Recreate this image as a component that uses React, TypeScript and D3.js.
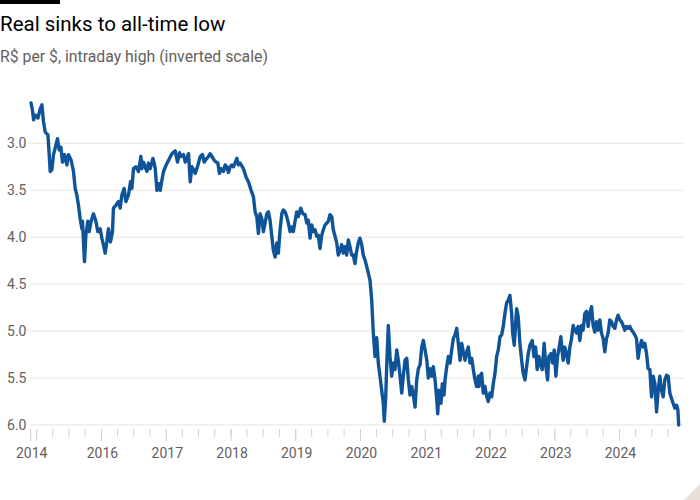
import React from 'react';
import * as d3 from 'd3';

// decimal years (intraday high sampled roughly every 9-10 days)
const TIMES = [
  2014.912, 2014.935, 2014.951, 2014.977, 2015.019, 2015.054, 2015.080, 2015.105, 2015.131, 2015.173,
  2015.193, 2015.208, 2015.235, 2015.259, 2015.285, 2015.321, 2015.347, 2015.373, 2015.398, 2015.429,
  2015.466, 2015.491, 2015.532, 2015.568, 2015.594, 2015.620, 2015.645, 2015.671, 2015.698, 2015.707,
  2015.738, 2015.759, 2015.790, 2015.810, 2015.841, 2015.877, 2015.914, 2015.944, 2015.980, 2016.006,
  2016.031, 2016.057, 2016.083, 2016.108, 2016.139, 2016.170, 2016.185, 2016.222, 2016.262, 2016.289,
  2016.315, 2016.350, 2016.377, 2016.417, 2016.448, 2016.469, 2016.494, 2016.531, 2016.571, 2016.608,
  2016.623, 2016.648, 2016.674, 2016.701, 2016.725, 2016.752, 2016.793, 2016.813, 2016.829, 2016.855,
  2016.880, 2016.906, 2016.932, 2016.957, 2016.998, 2017.034, 2017.086, 2017.137, 2017.173, 2017.204,
  2017.225, 2017.265, 2017.292, 2017.318, 2017.343, 2017.369, 2017.395, 2017.420, 2017.446, 2017.481,
  2017.523, 2017.559, 2017.585, 2017.627, 2017.651, 2017.677, 2017.704, 2017.739, 2017.770, 2017.796,
  2017.821, 2017.847, 2017.883, 2017.909, 2017.935, 2017.960, 2017.986, 2018.012, 2018.037, 2018.063,
  2018.090, 2018.114, 2018.140, 2018.191, 2018.233, 2018.269, 2018.310, 2018.346, 2018.372, 2018.398,
  2018.423, 2018.449, 2018.475, 2018.500, 2018.526, 2018.552, 2018.577, 2018.603, 2018.630, 2018.654,
  2018.681, 2018.707, 2018.731, 2018.758, 2018.784, 2018.809, 2018.835, 2018.861, 2018.886, 2018.912,
  2018.938, 2018.963, 2018.989, 2019.015, 2019.040, 2019.077, 2019.108, 2019.144, 2019.170, 2019.194,
  2019.221, 2019.247, 2019.272, 2019.298, 2019.324, 2019.349, 2019.375, 2019.401, 2019.426, 2019.452,
  2019.478, 2019.503, 2019.529, 2019.556, 2019.580, 2019.607, 2019.633, 2019.657, 2019.684, 2019.710,
  2019.735, 2019.761, 2019.787, 2019.812, 2019.838, 2019.864, 2019.889, 2019.915, 2019.941, 2019.966,
  2019.992, 2020.019, 2020.043, 2020.069, 2020.096, 2020.120, 2020.147, 2020.173, 2020.198, 2020.224,
  2020.250, 2020.275, 2020.301, 2020.327, 2020.352, 2020.367, 2020.389, 2020.404, 2020.429, 2020.455,
  2020.481, 2020.506, 2020.532, 2020.559, 2020.583, 2020.610, 2020.636, 2020.660, 2020.687, 2020.713,
  2020.738, 2020.764, 2020.790, 2020.815, 2020.841, 2020.867, 2020.892, 2020.918, 2020.944, 2020.969,
  2020.995, 2021.022, 2021.046, 2021.073, 2021.099, 2021.123, 2021.150, 2021.176, 2021.191, 2021.211,
  2021.242, 2021.262, 2021.289, 2021.304, 2021.330, 2021.355, 2021.381, 2021.407, 2021.432, 2021.458,
  2021.485, 2021.509, 2021.536, 2021.562, 2021.586, 2021.613, 2021.639, 2021.664, 2021.690, 2021.716,
  2021.741, 2021.767, 2021.793, 2021.818, 2021.829, 2021.844, 2021.870, 2021.895, 2021.921, 2021.948,
  2021.972, 2021.998, 2022.025, 2022.049, 2022.076, 2022.102, 2022.127, 2022.153, 2022.179, 2022.204,
  2022.230, 2022.256, 2022.281, 2022.307, 2022.333, 2022.349, 2022.374, 2022.395, 2022.411, 2022.435,
  2022.461, 2022.488, 2022.512, 2022.539, 2022.565, 2022.590, 2022.616, 2022.651, 2022.678, 2022.704,
  2022.728, 2022.755, 2022.781, 2022.806, 2022.836, 2022.863, 2022.889, 2022.909, 2022.940, 2022.966,
  2022.991, 2023.017, 2023.043, 2023.068, 2023.094, 2023.114, 2023.130, 2023.156, 2023.182, 2023.207,
  2023.233, 2023.259, 2023.284, 2023.310, 2023.336, 2023.361, 2023.387, 2023.414, 2023.438, 2023.465,
  2023.491, 2023.515, 2023.542, 2023.568, 2023.593, 2023.619, 2023.645, 2023.670, 2023.696, 2023.722,
  2023.747, 2023.773, 2023.799, 2023.824, 2023.850, 2023.877, 2023.901, 2023.928, 2023.954, 2023.978,
  2024.005, 2024.031, 2024.056, 2024.082, 2024.108, 2024.133, 2024.159, 2024.185, 2024.210, 2024.236,
  2024.262, 2024.287, 2024.313, 2024.340, 2024.364, 2024.390, 2024.417, 2024.441, 2024.468, 2024.494,
  2024.519, 2024.545, 2024.571, 2024.596, 2024.622, 2024.648, 2024.673, 2024.699, 2024.725, 2024.750,
  2024.776, 2024.803, 2024.827, 2024.853, 2024.880, 2024.900, 2024.912,
];

// R$ per $
const RATES = [
  2.57, 2.65, 2.75, 2.70, 2.73, 2.63, 2.59, 2.77, 2.88, 2.91,
  3.12, 3.30, 3.28, 3.12, 3.05, 2.95, 3.07, 3.04, 3.20, 3.12,
  3.23, 3.12, 3.18, 3.30, 3.48, 3.55, 3.66, 3.80, 3.91, 3.83,
  4.26, 3.98, 3.83, 3.94, 3.83, 3.75, 3.83, 3.94, 3.91, 4.01,
  4.08, 4.17, 4.05, 3.91, 4.05, 3.94, 3.69, 3.66, 3.62, 3.69,
  3.55, 3.48, 3.62, 3.55, 3.41, 3.48, 3.27, 3.25, 3.30, 3.14,
  3.27, 3.20, 3.25, 3.30, 3.21, 3.27, 3.16, 3.21, 3.27, 3.50,
  3.43, 3.50, 3.39, 3.30, 3.23, 3.18, 3.11, 3.08, 3.20, 3.10,
  3.14, 3.12, 3.20, 3.16, 3.11, 3.41, 3.25, 3.28, 3.32, 3.25,
  3.14, 3.12, 3.20, 3.16, 3.14, 3.11, 3.14, 3.18, 3.20, 3.21,
  3.32, 3.27, 3.30, 3.23, 3.25, 3.31, 3.25, 3.23, 3.25, 3.21,
  3.16, 3.23, 3.21, 3.27, 3.36, 3.41, 3.50, 3.57, 3.73, 3.78,
  3.96, 3.75, 3.80, 3.94, 3.85, 3.75, 3.73, 3.82, 3.99, 4.14,
  4.21, 4.06, 4.17, 3.92, 3.75, 3.71, 3.73, 3.78, 3.85, 3.94,
  3.89, 3.94, 3.83, 3.73, 3.78, 3.69, 3.75, 3.76, 3.85, 3.82,
  4.01, 3.87, 3.94, 3.92, 3.99, 3.98, 4.12, 3.98, 3.92, 3.87,
  3.85, 3.83, 3.76, 3.78, 3.92, 3.99, 4.06, 4.19, 4.14, 4.08,
  4.17, 4.10, 4.19, 4.03, 4.10, 4.19, 4.19, 4.28, 4.15, 4.06,
  4.01, 4.08, 4.19, 4.24, 4.31, 4.38, 4.46, 4.67, 5.02, 5.27,
  5.07, 5.34, 5.48, 5.63, 5.77, 5.96, 5.70, 5.38, 4.94, 5.27,
  5.48, 5.34, 5.41, 5.20, 5.31, 5.48, 5.66, 5.48, 5.31, 5.29,
  5.52, 5.68, 5.59, 5.68, 5.81, 5.52, 5.40, 5.36, 5.17, 5.10,
  5.20, 5.31, 5.50, 5.40, 5.48, 5.38, 5.52, 5.73, 5.88, 5.63,
  5.77, 5.56, 5.68, 5.52, 5.38, 5.27, 5.34, 5.20, 5.08, 5.04,
  4.97, 5.13, 5.31, 5.13, 5.22, 5.31, 5.22, 5.17, 5.34, 5.29,
  5.41, 5.52, 5.59, 5.48, 5.59, 5.48, 5.45, 5.66, 5.59, 5.70,
  5.75, 5.66, 5.70, 5.56, 5.45, 5.27, 5.20, 5.06, 5.04, 4.95,
  4.81, 4.70, 4.67, 4.62, 4.81, 5.02, 5.15, 4.92, 4.76, 4.85,
  5.13, 5.31, 5.45, 5.52, 5.38, 5.24, 5.15, 5.10, 5.27, 5.17,
  5.41, 5.27, 5.36, 5.41, 5.13, 5.38, 5.52, 5.27, 5.24, 5.34,
  5.20, 5.48, 5.27, 5.17, 5.06, 5.22, 5.31, 5.17, 5.24, 5.34,
  5.17, 5.08, 4.94, 4.99, 5.02, 4.95, 5.10, 4.94, 4.99, 4.81,
  4.79, 4.95, 4.81, 4.74, 4.94, 5.01, 4.90, 4.99, 4.88, 5.02,
  5.08, 5.22, 5.08, 5.02, 4.88, 4.90, 4.95, 4.97, 4.88, 4.83,
  4.88, 4.90, 4.94, 4.99, 4.95, 4.97, 4.95, 4.99, 5.01, 5.04,
  5.08, 5.29, 5.17, 5.10, 5.17, 5.13, 5.24, 5.40, 5.41, 5.70,
  5.48, 5.56, 5.86, 5.63, 5.48, 5.63, 5.70, 5.52, 5.47, 5.48,
  5.66, 5.72, 5.77, 5.82, 5.79, 5.84, 6.00,
];

const Y_TICKS = [3.0, 3.5, 4.0, 4.5, 5.0, 5.5, 6.0];
const X_LABEL_YEARS = [2014, 2016, 2017, 2018, 2019, 2020, 2021, 2022, 2023, 2024];
const TITLE = 'Real sinks to all-time low';
const SUBTITLE = 'R$ per $, intraday high (inverted scale)';

const W = 700;
const H = 500;
const FONT = 'Roboto, "Noto Sans", sans-serif';

function fromDecimalYear(t: number): Date {
  const year = Math.floor(t);
  const start = new Date(year, 0, 1).getTime();
  const end = new Date(year + 1, 0, 1).getTime();
  return new Date(start + (t - year) * (end - start));
}

export default function App() {
  const data = TIMES.map((t, i) => ({ date: fromDecimalYear(t), value: RATES[i] }));

  const startDate = new Date(2014, 10, 28);
  const endDate = new Date(2024, 11, 27);
  const x = d3.scaleTime().domain([startDate, endDate]).range([30.7, 683.5]);
  // inverted: weaker real sits lower
  const y = d3.scaleLinear().domain([2.5, 6.0]).range([96.4, 425]);

  const line = d3.line<{ date: Date; value: number }>()
    .x((d) => x(d.date))
    .y((d) => y(d.value))
    .curve(d3.curveLinear);

  const quarterTicks = d3.timeMonth.every(3)!.range(new Date(2015, 0, 1), endDate);
  const yearTicks = [startDate, ...d3.timeYear.range(new Date(2015, 0, 1), endDate)];
  const labelPos = X_LABEL_YEARS.map((yr, i) => ({
    label: String(yr),
    date: i === 0 ? startDate : new Date(yr, 0, 1),
  }));

  const [x0, x1] = x.range();
  const baseY = y(6.0);

  return (
    <svg
      width={W}
      height={H}
      style={{ position: 'absolute', left: 0, top: 0, background: '#fff' }}
      fontFamily={FONT}
    >
      <rect x={0} y={0} width={60} height={4} fill="#000" />
      <text x={0} y={31} fontSize={20.5} fill="#000">{TITLE}</text>
      <text x={0} y={62} fontSize={15.8} fill="#66605c">{SUBTITLE}</text>

      {/* gridlines */}
      {Y_TICKS.map((v) => (
        <line key={v} x1={x0} x2={x1} y1={y(v)} y2={y(v)} stroke="#ebe3da" strokeWidth={1} />
      ))}
      {Y_TICKS.map((v) => (
        <text key={'l' + v} x={26.5} y={y(v)} dy="0.36em" textAnchor="end" fontSize={14} fill="#66605c">
          {v.toFixed(1)}
        </text>
      ))}

      {/* x ticks */}
      {quarterTicks.map((d) => (
        <line key={+d} x1={x(d)} x2={x(d)} y1={baseY + 4} y2={baseY + 12} stroke="#d9d1c9" strokeWidth={1} />
      ))}
      {yearTicks.map((d) => (
        <line key={'y' + +d} x1={x(d)} x2={x(d)} y1={baseY + 4} y2={baseY + 16} stroke="#d9d1c9" strokeWidth={1} />
      ))}
      {labelPos.map((d) => (
        <text key={d.label} x={x(d.date) + 1} y={458} textAnchor="middle" fontSize={14} fill="#66605c">
          {d.label}
        </text>
      ))}

      <path
        d={line(data) || ''}
        fill="none"
        stroke="#0f5499"
        strokeWidth={3.4}
        strokeLinejoin="round"
        strokeLinecap="round"
      />

      <polygon points={`${W},${H - 16} ${W},${H} ${W - 16},${H}`} fill="#e8e0d8" />
    </svg>
  );
}
